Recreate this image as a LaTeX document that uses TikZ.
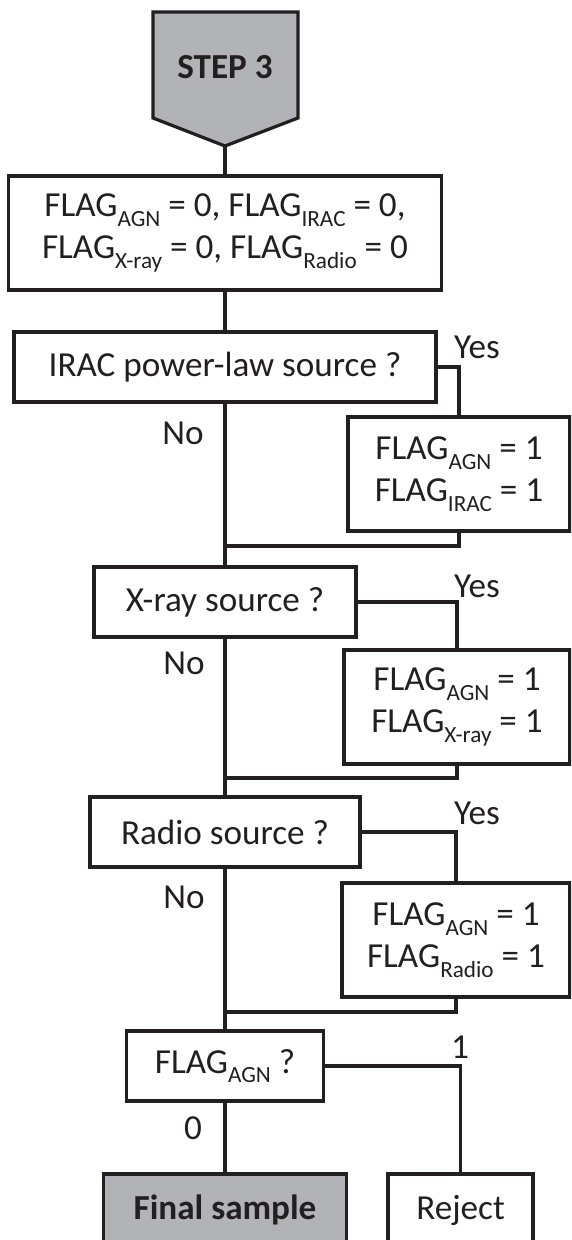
\documentclass[tikz,border=0pt]{standalone}
\usepackage{fontspec}
\setmainfont{Carlito}

\definecolor{ink}{RGB}{35,31,32}
\definecolor{boxgray}{RGB}{178,179,182}
\newcommand{\flag}[1]{FLAG\raisebox{-0.28em}{\fontsize{16.5}{16.5}\selectfont #1}}

\begin{document}
\begin{tikzpicture}[
    font=\fontsize{25}{30}\selectfont,
    color=ink, line width=2.3pt,
    box/.style={draw, line width=2.3pt, outer sep=0pt, inner sep=0pt, align=center},
    test/.style={box, minimum height=1.75cm},
    flagbox/.style={box, minimum height=2.85cm},
    endbox/.style={box, minimum height=1.8cm}
]
    \clip (0,0) rectangle (14.275,-31);

    % --- Step header ---
    \draw[fill=boxgray] (3.825,-0.3) -- (7.45,-0.3) -- (7.45,-2.95)
        -- (5.625,-3.65) -- (3.825,-2.95) -- cycle;
    \node (step) at (5.625,-1.675) {\bfseries STEP 3};
    \coordinate (steptip) at (5.625,-3.65);

    % --- Main column ---
    \node[box, minimum width=10.825cm, minimum height=2.85cm] (init) at (5.625,-5.825)
        {\flag{AGN} = 0, \flag{IRAC} = 0,\\ \flag{X-ray} = 0, \flag{Radio} = 0};
    \node[test, minimum width=10.55cm] (irac) at (5.625,-9.175) {IRAC power-law source ?};
    \node[test, minimum width=6.55cm] (xray) at (5.625,-15.05) {X-ray source ?};
    \node[test, minimum width=6.75cm] (radio) at (5.625,-20.8) {Radio source ?};
    \node[test, minimum width=4.925cm] (agn) at (5.625,-26.65) {\flag{AGN} ?};
    \node[endbox, fill=boxgray, minimum width=6.075cm] (final) at (5.625,-30.25) {\bfseries Final sample};

    % --- Flag boxes (right column) ---
    \node[flagbox, minimum width=5.55cm] (iracflag) at (11.475,-11.85) {\flag{AGN} = 1\\ \flag{IRAC} = 1};
    \node[flagbox, minimum width=5.65cm] (xrayflag) at (11.425,-17.675) {\flag{AGN} = 1\\ \flag{X-ray} = 1};
    \node[flagbox, minimum width=5.7cm] (radioflag) at (11.4,-23.5) {\flag{AGN} = 1\\ \flag{Radio} = 1};
    \node[endbox, minimum width=3.625cm] (reject) at (11.5125,-30.25) {Reject};

    % --- Merge points ---
    \coordinate (m1) at (5.625,-13.65);
    \coordinate (m2) at (5.625,-19.45);
    \coordinate (m3) at (5.625,-25.3);

    % --- Connectors ---
    \draw (steptip) -- (init.north);
    \draw (init) -- (irac);
    \draw (irac) -- (xray);
    \draw (xray) -- (radio);
    \draw (radio) -- (agn);
    \draw (agn) -- (final);
    \draw (irac.east) -| (iracflag.north);
    \draw (xray.east) -| (xrayflag.north);
    \draw (radio.east) -| (radioflag.north);
    \draw (agn.east) -| (reject.north);
    \draw (iracflag.south) |- (m1);
    \draw (xrayflag.south) |- (m2);
    \draw (radioflag.south) |- (m3);

    % --- Branch labels ---
    \node (yes1) at (11.925,-8.675) {Yes};
    \node (yes2) at (11.925,-14.65) {Yes};
    \node (yes3) at (11.925,-20.325) {Yes};
    \node (one)  at (11.5,-26.175) {1};
    \node (no1)  at (4.575,-10.825) {No};
    \node (no2)  at (4.6,-16.575) {No};
    \node (no3)  at (4.6,-22.425) {No};
    \node (zero) at (4.825,-28.2) {0};

\end{tikzpicture}
\end{document}
